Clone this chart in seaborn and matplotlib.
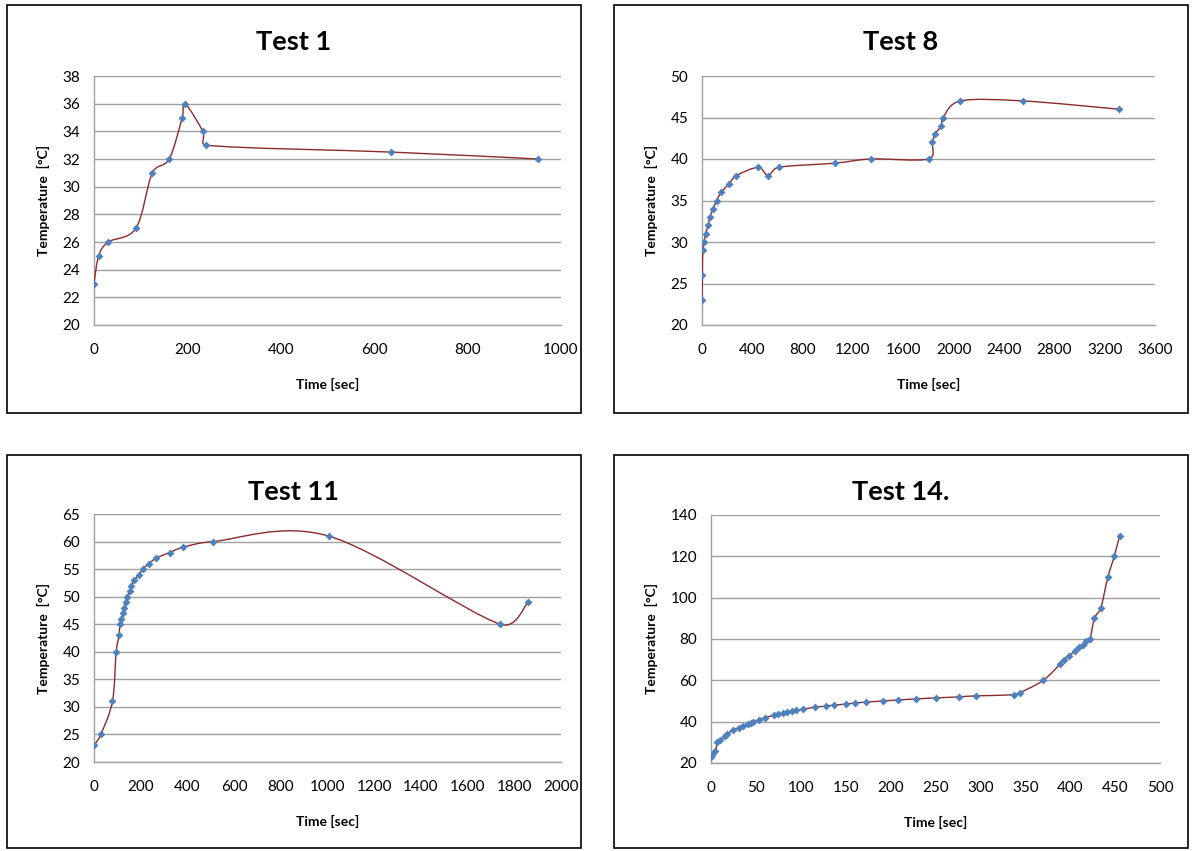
import numpy as np
import pandas as pd
import matplotlib
matplotlib.use("Agg")
import matplotlib.pyplot as plt
import seaborn as sns
from matplotlib.path import Path
from matplotlib.patches import PathPatch, Rectangle

# ---------------- data ----------------
t1_time = [0, 10, 31, 90, 125, 161, 189, 195, 233, 240, 637, 951]
t1_temp = [23, 25, 26, 27, 31, 32, 35, 36, 34, 33, 32.5, 32]

t8_time = [0, 3, 6, 17, 28, 48, 62, 88, 116, 153, 215, 274, 447, 524, 608,
           1058, 1344, 1800, 1831, 1851, 1902, 1916, 2054, 2549, 3314]
t8_temp = [23, 26, 29, 30, 31, 32, 33, 34, 35, 36, 37, 38, 39, 38, 39,
           39.5, 40, 40, 42, 43, 44, 45, 47, 47, 46]

t11_time = [0, 29, 79, 95, 107, 111, 117, 123, 128, 135, 142, 153, 160, 173,
            192, 210, 235, 267, 324, 383, 510, 1005, 1740, 1859]
t11_temp = [23, 25, 31, 40, 43, 45, 46, 47, 48, 49, 50, 51, 52, 53,
            54, 55, 56, 57, 58, 59, 60, 61, 45, 49]

t14_time = [0, 1, 5, 7, 10, 16, 18, 25, 31, 36, 41, 44, 47, 54, 60, 70, 75,
            80, 85, 90, 95, 102, 116, 128, 137, 150, 160, 173, 192, 208, 228,
            250, 276, 295, 337, 344, 370, 389, 393, 399, 405, 410, 414, 418,
            422, 427, 434, 442, 449, 455]
t14_temp = [23, 24, 26, 30, 31, 33, 34, 36, 37, 38, 39, 39.5, 40, 41, 42, 43,
            43.5, 44, 44.5, 45, 45.5, 46, 47, 47.5, 48, 48.5, 49, 49.5, 50,
            50.5, 51, 51.5, 52, 52.5, 53, 54, 60, 68, 70, 72, 74, 76, 77, 79,
            80, 90, 95, 110, 120, 130]

titles = ["Test 1", "Test 8", "Test 11", "Test 14."]
x_ticks = [np.arange(0, 1001, 200), np.arange(0, 3601, 400),
           np.arange(0, 2001, 200), np.arange(0, 501, 50)]
y_ticks = [np.arange(20, 39, 2), np.arange(20, 51, 5),
           np.arange(20, 66, 5), np.arange(20, 141, 20)]
x_label = "Time [sec]"
y_label = "Temperature  [°C]"

# ---------------- style ----------------
sns.set_theme(style="white")
plt.rcParams["font.family"] = ["Lato", "DejaVu Sans"]
plt.rcParams["text.color"] = "black"
plt.rcParams["axes.labelcolor"] = "black"

W, H = 1195, 851
fig = plt.figure(figsize=(W / 100, H / 100), dpi=100)
fig.patch.set_facecolor("white")

GRID = "#A0A0A0"
LINE = "#8B2B2B"
MARK = "#4F81BD"


def px_rect(x0, x1, y0, y1):
    return [x0 / W, 1 - y1 / H, (x1 - x0) / W, (y1 - y0) / H]


boxes = [px_rect(7, 581, 5, 413), px_rect(614, 1188, 5, 413),
         px_rect(7, 581, 455, 848), px_rect(614, 1188, 455, 848)]
axes_pos = [px_rect(94, 561, 76, 325), px_rect(702, 1155, 76, 325),
            px_rect(94, 561, 514, 762), px_rect(711, 1160, 515, 763)]


def smooth_path(x, y, sx, sy, limit=0.5):
    """Excel-like smoothed line as cubic Bezier segments (control points
    derived from neighbours, limited relative to the segment length in
    screen space)."""
    d = np.column_stack([x, y]).astype(float)
    s = np.array([sx, sy])
    p = d * s
    n = len(p)
    verts = [d[0]]
    codes = [Path.MOVETO]
    for i in range(n - 1):
        p0 = p[i - 1] if i > 0 else p[i]
        p1 = p[i]
        p2 = p[i + 1]
        p3 = p[i + 2] if i + 2 < n else p[i + 1]
        seg = np.hypot(*(p2 - p1))
        t1 = (p2 - p0) / 6.0
        t2 = (p3 - p1) / 6.0
        for t in (t1, t2):
            L = np.hypot(*t)
            if L > limit * seg and L > 0:
                t *= limit * seg / L
        c1 = (p1 + t1) / s
        c2 = (p2 - t2) / s
        verts += [c1, c2, d[i + 1]]
        codes += [Path.CURVE4] * 3
    return Path(verts, codes)


series = [(t1_time, t1_temp), (t8_time, t8_temp),
          (t11_time, t11_temp), (t14_time, t14_temp)]

for k in range(4):
    bx = boxes[k]
    fig.patches.append(Rectangle((bx[0], bx[1]), bx[2], bx[3],
                                 transform=fig.transFigure, fill=False,
                                 edgecolor="black", linewidth=1.2, zorder=0))
    ax = fig.add_axes(axes_pos[k])
    tx, ty = series[k]
    df = pd.DataFrame({"time": tx, "temp": ty})
    xt, yt = x_ticks[k], y_ticks[k]

    ap = axes_pos[k]
    sx = ap[2] * W / (xt[-1] - xt[0])
    sy = ap[3] * H / (yt[-1] - yt[0])
    ax.add_patch(PathPatch(smooth_path(df["time"], df["temp"], sx, sy),
                           facecolor="none", edgecolor=LINE, linewidth=1.0,
                           zorder=3))
    sns.scatterplot(data=df, x="time", y="temp", ax=ax, marker="D", s=16,
                    color=MARK, linewidth=0, zorder=4)

    ax.set_xlim(xt[0], xt[-1])
    ax.set_ylim(yt[0], yt[-1])
    ax.set_xticks(xt)
    ax.set_yticks(yt)
    ax.grid(axis="y", color=GRID, linewidth=1.0)
    ax.grid(axis="x", visible=False)
    ax.set_axisbelow(True)
    for sname in ["top", "right"]:
        ax.spines[sname].set_visible(False)
    for sname in ["left", "bottom"]:
        ax.spines[sname].set_color(GRID)
        ax.spines[sname].set_linewidth(1.0)
    ax.tick_params(axis="both", which="major", direction="out", length=5,
                   width=1.0, color=GRID, labelsize=11, labelcolor="black")
    ax.tick_params(axis="x", pad=8)
    ax.tick_params(axis="y", pad=5)
    ax.set_xlabel(x_label, fontsize=10, fontweight="bold", labelpad=15,
                  color="black")
    ax.set_ylabel(y_label, fontsize=10, fontweight="bold", labelpad=9,
                  color="black")
    ax.set_facecolor("none")

    cx = bx[0] + bx[2] / 2
    top_px = (1 - (bx[1] + bx[3])) * H
    fig.text(cx, 1 - (top_px + 37) / H, titles[k], ha="center", va="center",
             fontsize=19.5, fontweight="bold", color="black")

fig.savefig("out.png", dpi=100, facecolor="white")
